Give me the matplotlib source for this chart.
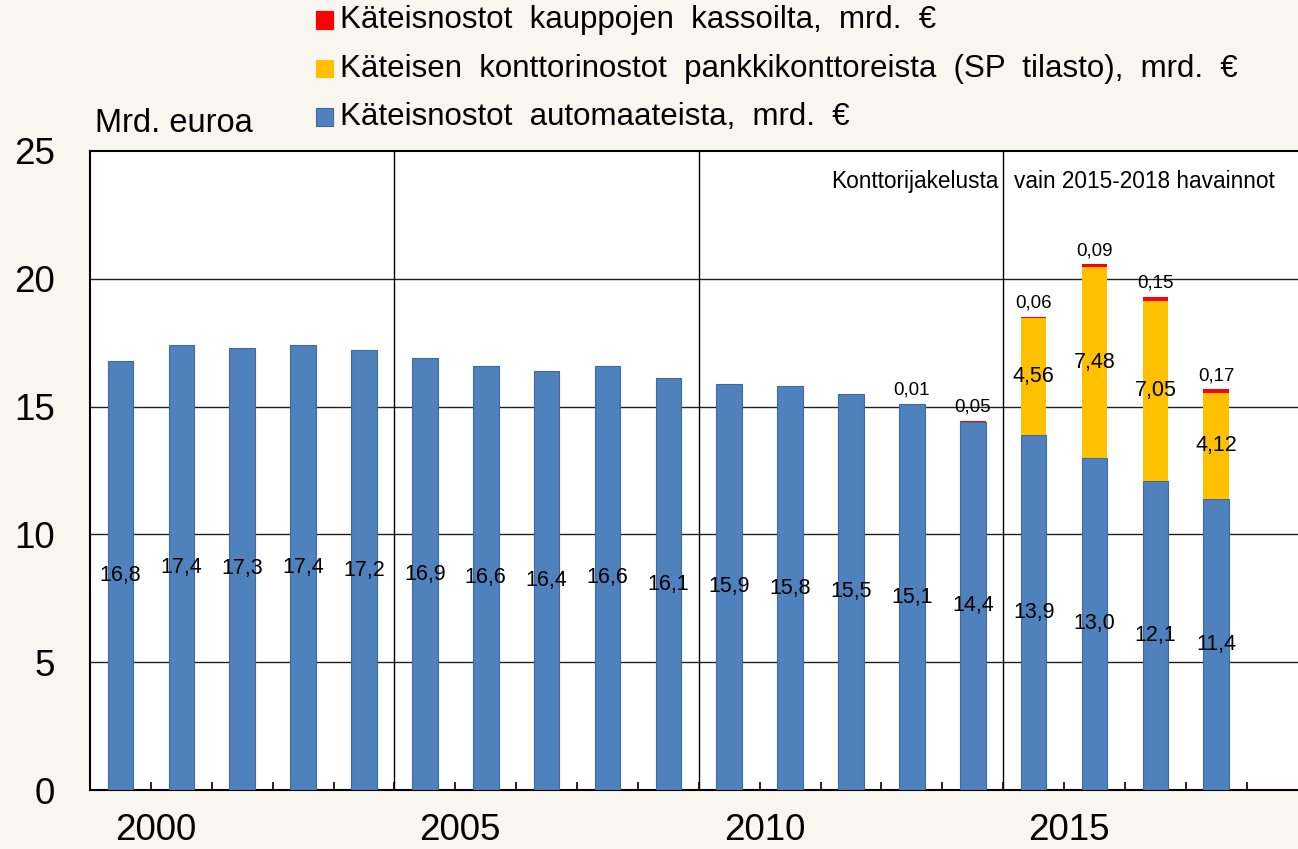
import matplotlib
matplotlib.use("Agg")
import matplotlib.pyplot as plt
from matplotlib.patches import Rectangle
import numpy as np

plt.rcParams['font.family'] = ['Liberation Sans', 'DejaVu Sans']

years = list(range(2000, 2019))
atm = [16.8, 17.4, 17.3, 17.4, 17.2, 16.9, 16.6, 16.4, 16.6, 16.1,
       15.9, 15.8, 15.5, 15.1, 14.4, 13.9, 13.0, 12.1, 11.4]
branch = [0, 0, 0, 0, 0, 0, 0, 0, 0, 0, 0, 0, 0, 0, 0, 4.56, 7.48, 7.05, 4.12]
store = [0, 0, 0, 0, 0, 0, 0, 0, 0, 0, 0, 0, 0, 0.01, 0.05, 0.06, 0.09, 0.15, 0.17]
year_labels = ["2000", "2005", "2010", "2015"]
yticks = [0, 5, 10, 15, 20, 25]
legend_labels = ["Käteisnostot  kauppojen  kassoilta,  mrd.  €",
                 "Käteisen  konttorinostot  pankkikonttoreista  (SP  tilasto),  mrd.  €",
                 "Käteisnostot  automaateista,  mrd.  €"]
note_left = "Konttorijakelusta"
note_right = "vain 2015-2018 havainnot"

BG = "#F9F5EF"
BLUE = "#4F81BD"
BLUE_EDGE = "#3F6AA0"
ORANGE = "#FFC000"
RED = "#FF0000"

W, H = 1298, 849
fig = plt.figure(figsize=(W / 100, H / 100), dpi=100, facecolor=BG)
ax = fig.add_axes([90 / W, (H - 790) / H, (1307.6 - 90) / W, (790 - 151) / H])
ax.set_facecolor("white")

x = np.arange(len(years))
atm_a = np.array(atm)
br_a = np.array(branch)
st_a = np.array(store)
bw = 0.42

b1 = ax.bar(x, atm_a, bw, color=BLUE, edgecolor=BLUE_EDGE, linewidth=0.8, zorder=3)
b2 = ax.bar(x, br_a, bw, bottom=atm_a, color=ORANGE, edgecolor="none", zorder=3)
b3 = ax.bar(x, st_a, bw, bottom=atm_a + br_a, color=RED, edgecolor="none", zorder=3)

fmt1 = [f"{v:.1f}".replace(".", ",") for v in atm]
fmt2 = [f"{v:.2f}".replace(".", ",") if v > 0 else "" for v in branch]
fmt3 = [f"{v:.2f}".replace(".", ",") if v > 0 else "" for v in store]
ax.bar_label(b1, labels=fmt1, label_type="center", fontsize=15.5, zorder=5)
ax.bar_label(b2, labels=fmt2, label_type="center", fontsize=15.5, zorder=5)
ax.bar_label(b3, labels=fmt3, label_type="edge", padding=3.5, fontsize=13.5, zorder=5)

ax.set_xlim(-0.5, 19.5)
ax.set_ylim(0, 25)

for yv in yticks[1:-1]:
    ax.axhline(yv, color="#202020", lw=1.0, zorder=1)
for xv in [4.5, 9.5, 14.5]:
    ax.axvline(xv, color="black", lw=1.0, zorder=1)

ax.set_yticks(yticks)
ax.set_yticklabels([str(v) for v in yticks], fontsize=26.5)
ax.tick_params(axis="y", length=0, pad=25)

ax.set_xticks([0.58, 5.58, 10.58, 15.58])
ax.set_xticklabels(year_labels, fontsize=26.5)
ax.set_xticks(x + 0.5, minor=True)
ax.tick_params(axis="x", which="major", length=0, pad=16.5)
ax.tick_params(axis="x", which="minor", direction="in", length=6, width=1.2)

for s in ["left", "bottom", "top"]:
    ax.spines[s].set_linewidth(1.5)
    ax.spines[s].set_color("black")
ax.spines["right"].set_visible(False)

ax.text(14.42, 23.55, note_left, ha="right", va="baseline", fontsize=16.3, zorder=5)
ax.text(14.68, 23.55, note_right, ha="left", va="baseline", fontsize=16.3, zorder=5)

fig.text(95 / W, 1 - 123 / H, "Mrd. euroa", ha="left", va="center", fontsize=23.5)

colors = [RED, ORANGE, BLUE]
edges = [RED, ORANGE, BLUE_EDGE]
rows_y = [20, 68.5, 117]
for c, e, lab, yy in zip(colors, edges, legend_labels, rows_y):
    fig.add_artist(Rectangle((316 / W, 1 - (yy + 8.5) / H), 17 / W, 17 / H,
                             transform=fig.transFigure, facecolor=c, edgecolor=e, lw=0.8))
    fig.text(340 / W, 1 - yy / H, lab, ha="left", va="center", fontsize=22.5)

fig.savefig("out.png", dpi=100, facecolor=BG)
